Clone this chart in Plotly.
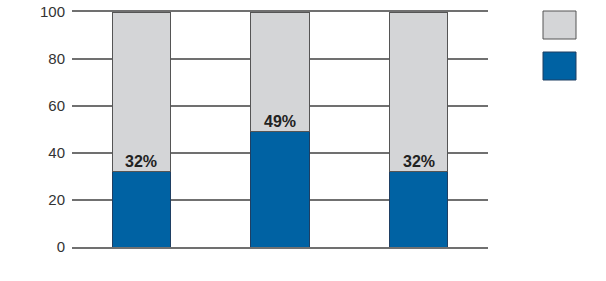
import plotly.graph_objects as go

categories = ["A", "B", "C"]
blue_values = [32, 49, 32]
grey_values = [100 - v for v in blue_values]
labels = ["32%", "49%", "32%"]
y_ticks = [0, 20, 40, 60, 80, 100]

FONT = "Liberation Sans, Arial, sans-serif"
BLUE = "#0062a3"
GREY = "#d4d5d7"
EDGE = "#555555"
GRID = "#707070"

fig = go.Figure()
fig.add_trace(go.Bar(x=categories, y=blue_values, marker=dict(color=BLUE, line=dict(color="#1f3f63", width=1)),
                     width=0.42, showlegend=False, hoverinfo="skip"))
fig.add_trace(go.Bar(x=categories, y=grey_values, marker=dict(color=GREY, line=dict(color=EDGE, width=1)),
                     width=0.42, showlegend=False, hoverinfo="skip"))

for c, v, t in zip(categories, blue_values, labels):
    fig.add_annotation(x=c, y=v, text="<b>" + t + "</b>", showarrow=False, yanchor="bottom", yshift=0,
                       font=dict(family=FONT, size=16, color="#222222"))

# legend swatches (no text)
fig.add_shape(type="rect", xref="paper", yref="paper", x0=(543 - 72) / 416, x1=(576 - 72) / 416,
              y0=(247 - 39) / 235, y1=(247 - 11) / 235, fillcolor=GREY, line=dict(color=EDGE, width=1))
fig.add_shape(type="rect", xref="paper", yref="paper", x0=(543 - 72) / 416, x1=(576 - 72) / 416,
              y0=(247 - 80) / 235, y1=(247 - 52) / 235, fillcolor=BLUE, line=dict(color="#1f3f63", width=1))

fig.update_layout(
    barmode="stack",
    width=606, height=281,
    margin=dict(l=72, r=118, t=12, b=34, autoexpand=False),
    plot_bgcolor="white", paper_bgcolor="white",
    font=dict(family=FONT, size=15, color="#333333"),
    xaxis=dict(showticklabels=False, showgrid=False, zeroline=False, showline=True, mirror=True,
               linecolor=GRID, linewidth=1.5, range=[-0.5, 2.5], automargin=False),
    yaxis=dict(range=[0, 100], tickvals=y_ticks, showgrid=True, gridcolor=GRID, gridwidth=1.5,
               zeroline=False, showline=False, ticks="", ticklabelstandoff=6, automargin=False,
               tickfont=dict(family=FONT, size=15, color="#333333")),
)
fig.update_xaxes(layer="below traces")
fig.update_yaxes(layer="below traces")

fig.write_html("out.html")
